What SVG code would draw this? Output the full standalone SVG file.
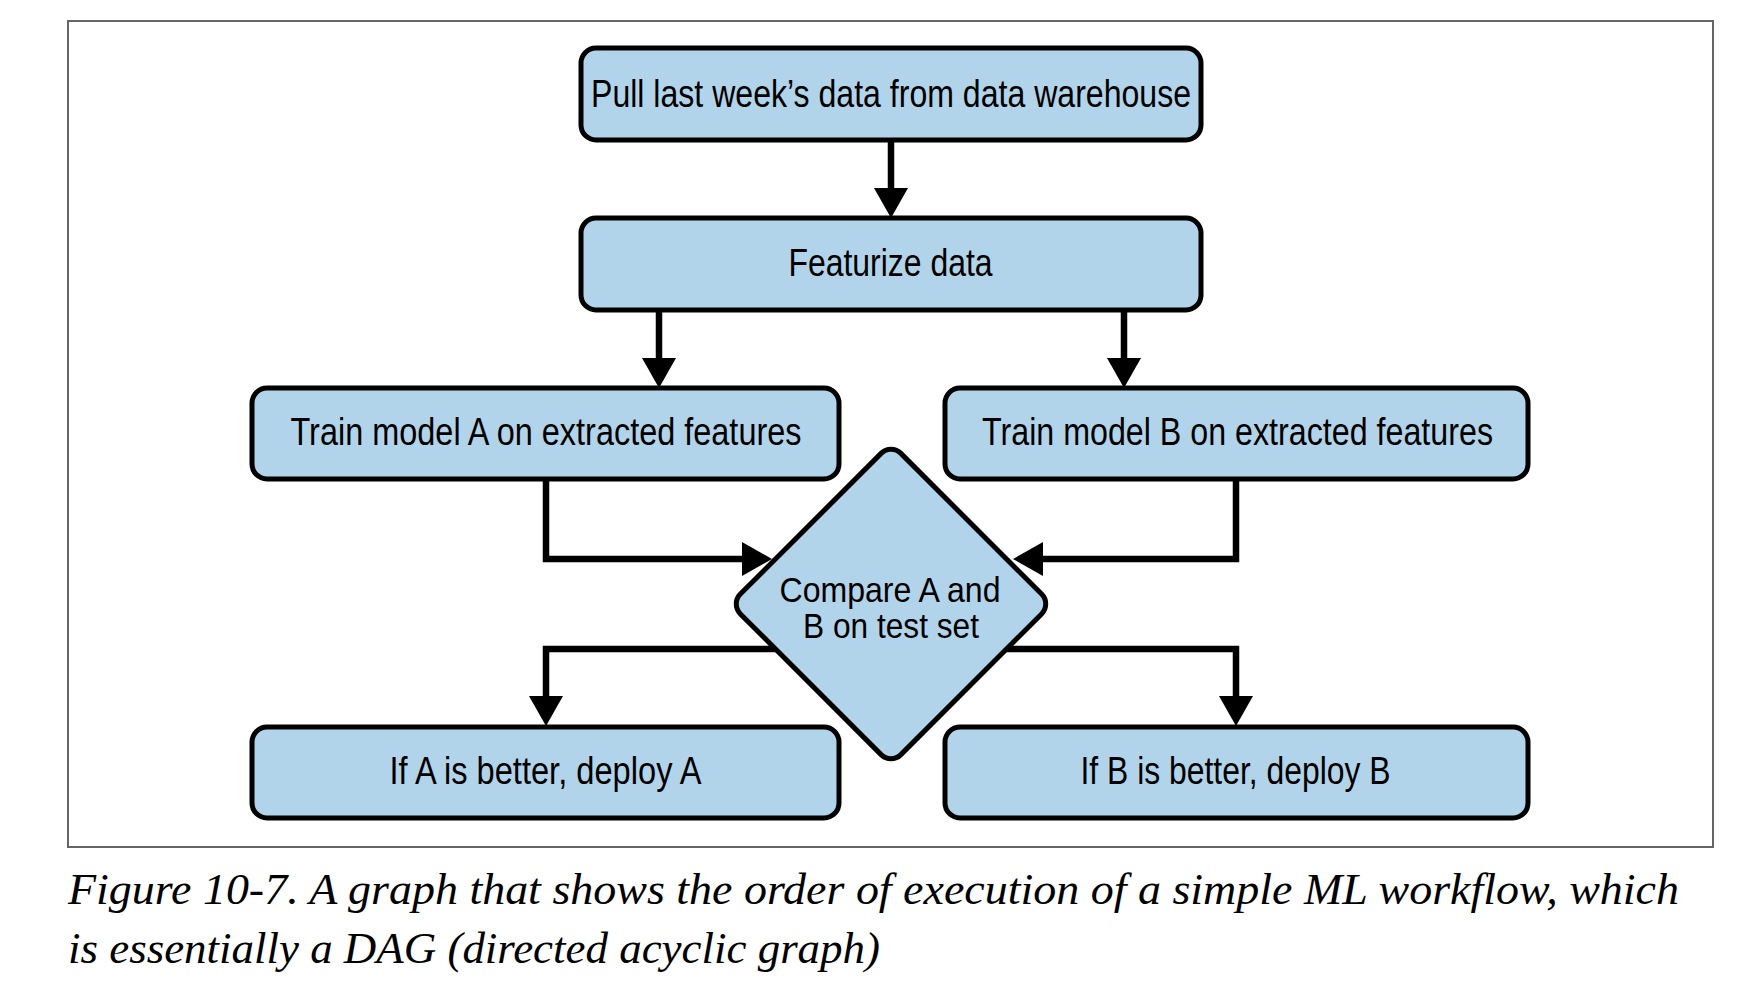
<svg xmlns="http://www.w3.org/2000/svg" width="1748" height="1000" viewBox="0 0 1748 1000">
<defs>
<style>
.node{fill:#b2d4ea;stroke:#000;stroke-width:5}
.lbl{font-family:"Liberation Sans Narrow","Liberation Sans",Arial,sans-serif;font-size:38px;fill:#000;text-anchor:middle}
.dlbl{font-size:35px}
.conn{fill:none;stroke:#000;stroke-width:6.5}
.cap{font-family:"Liberation Serif","Times New Roman",serif;font-style:italic;font-size:44px;fill:#000}
</style>
<marker id="ah" markerUnits="userSpaceOnUse" markerWidth="30" markerHeight="34" refX="20" refY="17" orient="auto">
<path d="M0,0 L30,17 L0,34 Z" fill="#000"/>
</marker>
</defs>
<rect x="0" y="0" width="1748" height="1000" fill="#fff"/>
<rect x="68" y="21" width="1645" height="826" fill="none" stroke="#666" stroke-width="2"/>
<g id="connectors">
<path class="conn" d="M891,140 V208" marker-end="url(#ah)"/>
<path class="conn" d="M659,310 V378" marker-end="url(#ah)"/>
<path class="conn" d="M1124,310 V378" marker-end="url(#ah)"/>
<path class="conn" d="M546,479 V559 H762" marker-end="url(#ah)"/>
<path class="conn" d="M1236,479 V559 H1023" marker-end="url(#ah)"/>
<path class="conn" d="M790,649 H546 V716" marker-end="url(#ah)"/>
<path class="conn" d="M995,649 H1236 V716" marker-end="url(#ah)"/>
</g>
<g id="n1">
<rect class="node" x="581" y="48" width="620" height="92" rx="15"/>
<text class="lbl" x="891" y="107" textLength="600" lengthAdjust="spacingAndGlyphs">Pull last week’s data from data warehouse</text>
</g>
<g id="n2">
<rect class="node" x="581" y="218" width="620" height="92" rx="15"/>
<text class="lbl" x="890.5" y="276" textLength="204" lengthAdjust="spacingAndGlyphs">Featurize data</text>
</g>
<g id="n3">
<rect class="node" x="252" y="388" width="587" height="91" rx="15"/>
<text class="lbl" x="546" y="445" textLength="511" lengthAdjust="spacingAndGlyphs">Train model A on extracted features</text>
</g>
<g id="n4">
<rect class="node" x="945" y="388" width="583" height="91" rx="15"/>
<text class="lbl" x="1237.5" y="445" textLength="511" lengthAdjust="spacingAndGlyphs">Train model B on extracted features</text>
</g>
<g id="n5">
<rect class="node" x="-113.5" y="-113.5" width="227" height="227" rx="14" transform="translate(891,604) rotate(45)"/>
<text class="lbl dlbl" x="890" y="602" textLength="221" lengthAdjust="spacingAndGlyphs">Compare A and</text>
<text class="lbl dlbl" x="891" y="638" textLength="176" lengthAdjust="spacingAndGlyphs">B on test set</text>
</g>
<g id="n6">
<rect class="node" x="252" y="727" width="587" height="91" rx="15"/>
<text class="lbl" x="545.5" y="784" textLength="312" lengthAdjust="spacingAndGlyphs">If A is better, deploy A</text>
</g>
<g id="n7">
<rect class="node" x="945" y="727" width="583" height="91" rx="15"/>
<text class="lbl" x="1235.5" y="784" textLength="310" lengthAdjust="spacingAndGlyphs">If B is better, deploy B</text>
</g>
<text class="cap" x="68" y="904" textLength="1611" lengthAdjust="spacingAndGlyphs">Figure 10-7. A graph that shows the order of execution of a simple ML workflow, which</text>
<text class="cap" x="68" y="963" textLength="812" lengthAdjust="spacingAndGlyphs">is essentially a DAG (directed acyclic graph)</text>
</svg>
